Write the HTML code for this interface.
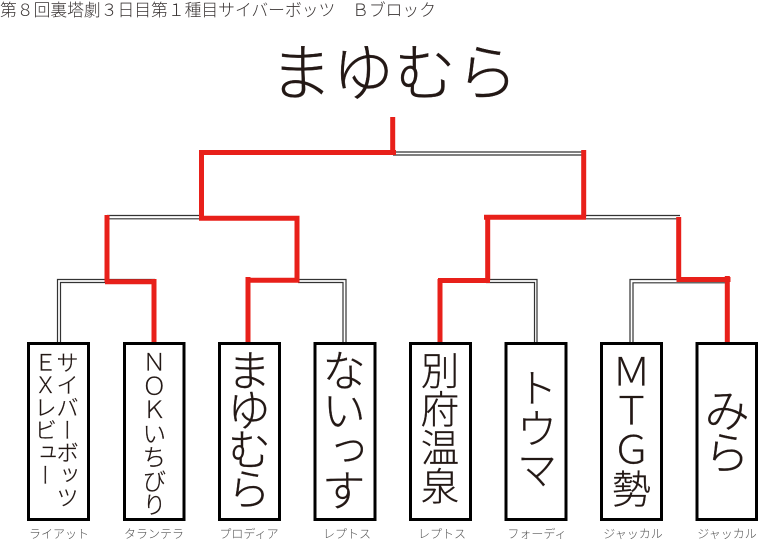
<!DOCTYPE html>
<html><head><meta charset="utf-8"><style>
html,body{margin:0;padding:0;background:#fff}
#p{position:relative;width:758px;height:543px;overflow:hidden;font-family:"Liberation Sans","Noto Sans CJK JP",sans-serif;font-weight:300;color:#231815}
#p svg{position:absolute;left:0;top:0}
.v{position:absolute;writing-mode:vertical-rl;white-space:nowrap;line-height:1;font-family:"Noto Sans CJK JP",sans-serif;font-weight:300;-webkit-text-stroke:0.25px #231815}
.s{position:absolute;top:527px;font-size:12px;line-height:14px;width:80px;text-align:center;color:#555;white-space:nowrap;font-family:"Noto Sans CJK JP",sans-serif;font-weight:300}
#h{position:absolute;left:0;top:0;font-size:16.8px;line-height:18px;white-space:nowrap;color:#3a3534;font-family:"Noto Sans CJK JP",sans-serif;font-weight:300}
#t{position:absolute;left:270px;top:33px;font-size:62px;line-height:70px;white-space:nowrap;font-family:"Noto Sans CJK JP",sans-serif;font-weight:300;-webkit-text-stroke:0.35px #231815}
</style></head><body><div id="p">
<div id="h">第８回裏塔劇３日目第１種目サイバーボッツ　Ｂブロック</div>
<div id="t">まゆむら</div>
<svg width="758" height="543" viewBox="0 0 758 543" fill="none">
<g stroke="#333" stroke-width="1.2">
<path d="M57.5 342V279.5H155M60.5 342V282.5H108"/>
<path d="M107 215.5H202M107 218.8H202"/>
<path d="M298 279.5H346V342M298 282.5H343V342"/>
<path d="M393 152H584M393 155H584"/>
<path d="M486 279.5H537V342M486 282.5H534.5V342"/>
<path d="M584 215.5H680M584 218.8H680"/>
<path d="M678 279.5H630V342M678 282.8H633V342M678 282.8H727"/>
</g>
<g stroke="#e8201a" stroke-width="5" stroke-linecap="butt">
<path d="M392.7 117V152.5"/>
<path d="M396 152.5H199M201.5 150V218.2M199 218.2H299.5M297 216V280.3M299.5 280.3H246M248 277V342"/>
<path d="M107 215V282M105 281.8H156.5M154 279V342"/>
<path d="M583.7 150V217.3M586 217.3H484M487.7 215V280.5M490 280.5H438M440 279V343"/>
<path d="M678.7 217V279.5M676.5 279.5H730.5M727.3 276V342"/>
</g>
<g stroke="#000" stroke-width="3" fill="#fff">
<rect x="28.5" y="343.5" width="60" height="176"/>
<rect x="124.5" y="343.5" width="59.5" height="176"/>
<rect x="219.5" y="343.5" width="60" height="176"/>
<rect x="315" y="343.5" width="60" height="176"/>
<rect x="410.5" y="343.5" width="60" height="176"/>
<rect x="506" y="343.5" width="60" height="176"/>
<rect x="601.5" y="343.5" width="60" height="176"/>
<rect x="697" y="343.5" width="59.5" height="176"/>
</g>
</svg>
<div class="v" style="left:56px;top:351px;font-size:22.5px">サイバーボッツ</div>
<div class="v" style="left:34px;top:351px;font-size:22.5px">ＥＸレビュー</div>
<div class="v" style="left:142px;top:350px;font-size:23.8px">ＮＯＫいちびり</div>
<div class="v" style="left:227px;top:348px;font-size:44px;letter-spacing:-4.5px">まゆむら</div>
<div class="v" style="left:322px;top:348px;font-size:44px;letter-spacing:-4px">ないっす</div>
<div class="v" style="left:420.5px;top:351px;font-size:38.5px">別府温泉</div>
<div class="v" style="left:516px;top:367px;font-size:41px">トウマ</div>
<div class="v" style="left:611.5px;top:352px;font-size:39px">ＭＴＧ勢</div>
<div class="v" style="left:704px;top:387px;font-size:46px;letter-spacing:-4px">みら</div>
<div class="s" style="left:19px">ライアット</div>
<div class="s" style="left:114px">タランテラ</div>
<div class="s" style="left:209px">プロディア</div>
<div class="s" style="left:307px">レプトス</div>
<div class="s" style="left:402px">レプトス</div>
<div class="s" style="left:497px">フォーディ</div>
<div class="s" style="left:593px">ジャッカル</div>
<div class="s" style="left:687px">ジャッカル</div>
</div></body></html>
